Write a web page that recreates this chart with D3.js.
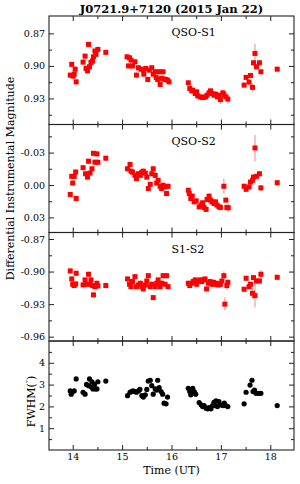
<!DOCTYPE html>
<html><head><meta charset="utf-8">
<script src="https://cdn.jsdelivr.net/npm/d3@7"></script>
<style>body{margin:0;background:#fff;} svg{display:block;} text{font-family:"DejaVu Serif",serif;fill:#000;}</style>
</head><body><svg id="c" width="300" height="484"></svg>
<script>
// ---------- data ----------
const title = "J0721.9+7120 (2015 Jan 22)";
const timeTicks = [14, 15, 16, 17, 18];
const timeTickLabels = ["14", "15", "16", "17", "18"];
const panelNames = ["QSO-S1", "QSO-S2", "S1-S2"];

const qsoS1Ticks = [0.87, 0.90, 0.93];
const qsoS1TickLabels = ["0.87", "0.90", "0.93"];
const qsoS2Ticks = [-0.03, 0.00, 0.03];
const qsoS2TickLabels = ["-0.03", "0.00", "0.03"];
const s1s2Ticks = [-0.87, -0.90, -0.93, -0.96];
const s1s2TickLabels = ["-0.87", "-0.90", "-0.93", "-0.96"];
const fwhmTicks = [0, 1, 2, 3, 4];
const fwhmTickLabels = ["0", "1", "2", "3", "4"];

// [time (UT), value, optional error]
const qsoS1 = [
[13.95,0.9085],[13.98,0.8986],[14.01,0.9094],[14.03,0.9076],[14.05,0.903],[14.07,0.9147],
[14.21,0.8965],[14.25,0.891],[14.27,0.9023],[14.30,0.9045],[14.32,0.8802],[14.34,0.9008],[14.37,0.8968],[14.40,0.8956],[14.42,0.8916],[14.45,0.8863],[14.47,0.8894],[14.51,0.8848],[14.67,0.8875],
[15.10,0.8916],[15.13,0.900],[15.15,0.8925],[15.18,0.8946],[15.21,0.900],[15.26,0.8962],[15.29,0.9085],[15.33,0.9017],[15.38,0.903],[15.43,0.9039],[15.44,0.9076],[15.48,0.9023],[15.52,0.9125],[15.55,0.9039],[15.60,0.9017],[15.63,0.9076],[15.67,0.9054],[15.69,0.9106],[15.72,0.9125],[15.75,0.9054],[15.77,0.9171],[15.80,0.9115],[15.83,0.9054],[15.85,0.9122],[15.88,0.9125],[15.92,0.9131],[15.95,0.9147],
[16.34,0.9156],[16.37,0.9208],[16.41,0.923],[16.43,0.9224],[16.48,0.9254],[16.51,0.9239],[16.53,0.9276],[16.58,0.9285],[16.62,0.9291],[16.65,0.9291],[16.69,0.9285],[16.72,0.927],[16.76,0.9248],[16.79,0.923],[16.82,0.9254],[16.86,0.927],[16.89,0.926],[16.93,0.9285],[16.96,0.927],[16.99,0.931,0.004],[17.04,0.9248],[17.06,0.9264],[17.10,0.9285],[17.14,0.9306,0.004],
[17.47,0.9177],[17.51,0.9106],[17.57,0.9149],[17.60,0.9088],[17.64,0.9198,0.004],[17.66,0.8971],[17.69,0.8885,0.009],[17.72,0.9008],[17.78,0.8971],[17.81,0.9054],[18.14,0.903]
];

const qsoS2 = [
[13.95,0.0088],[13.98,-0.008],[14.00,-0.0018],[14.03,-0.008],[14.06,-0.012],[14.07,0.0125],
[14.21,-0.016],[14.26,-0.0104],[14.30,-0.0073],[14.32,-0.022],[14.35,-0.011],[14.39,-0.015],[14.42,-0.0293],[14.45,-0.0211],[14.49,-0.0288],[14.51,-0.021],[14.67,-0.0248],
[15.11,-0.015],[15.16,-0.019],[15.18,-0.0128],[15.21,-0.0119],[15.26,-0.0089],[15.29,-0.0059],[15.33,-0.0104],[15.37,-0.0089],[15.40,-0.0119],[15.43,-0.0128],[15.47,-0.011],[15.50,-0.0073],[15.53,0.0033],[15.57,-0.0006],[15.60,-0.0104],[15.63,-0.015],[15.67,-0.0089],[15.70,-0.0018],[15.73,-0.0043],[15.77,0.0012],[15.80,0.0033],[15.83,0.0003],[15.87,0.0018],[15.90,0.0079],[15.93,0.0012],
[16.34,0.0049],[16.36,0.0079],[16.39,0.0125],[16.42,0.0103],[16.46,0.0156],[16.50,0.0147],[16.56,0.0202],[16.60,0.0186],[16.63,0.0165],[16.66,0.0208],[16.70,0.0226],[16.72,0.0134],[16.76,0.0103],[16.79,0.014],[16.82,0.0156],[16.86,0.0171],[16.89,0.0156],[16.92,0.0186],[16.96,0.0202],[16.99,0.0208],[17.06,0.0012,0.007],[17.10,0.014],[17.12,0.0208],[17.15,0.0211,0.004],
[17.47,0.0012],[17.51,0.004],[17.57,0.0018],[17.60,-0.0027],[17.64,-0.0043],[17.66,-0.0073],[17.69,-0.0343,0.012],[17.72,-0.008],[17.78,-0.0104],[17.81,0.0027],[18.14,-0.0021]
];

const s1s2 = [
[13.95,-0.8994],[13.98,-0.9068],[14.00,-0.9117],[14.03,-0.9129],[14.06,-0.9114],[14.07,-0.9016],
[14.21,-0.9123],[14.25,-0.9077],[14.28,-0.9117],[14.32,-0.9025],[14.35,-0.9117],[14.37,-0.9077],[14.40,-0.9129],[14.42,-0.9215],[14.45,-0.9139],[14.49,-0.9108],[14.51,-0.9132],[14.67,-0.9129],
[15.11,-0.9068],[15.15,-0.9117],[15.18,-0.9139],[15.21,-0.9092],[15.26,-0.9047],[15.29,-0.9139],[15.33,-0.9123],[15.37,-0.9108],[15.40,-0.9139],[15.43,-0.916],[15.47,-0.9123],[15.50,-0.9087],[15.53,-0.9038],[15.57,-0.9139],[15.60,-0.9117],[15.63,-0.924],[15.67,-0.9139],[15.70,-0.9108],[15.73,-0.9077],[15.77,-0.9139],[15.80,-0.9108],[15.83,-0.9038],[15.87,-0.9117],[15.90,-0.9038],[15.93,-0.9139],
[16.34,-0.9108],[16.37,-0.9129],[16.41,-0.9108],[16.44,-0.9092],[16.48,-0.9077],[16.51,-0.9117],[16.55,-0.9087],[16.58,-0.9077],[16.61,-0.9092],[16.65,-0.9077],[16.68,-0.9068],[16.71,-0.916],[16.75,-0.9108],[16.78,-0.9092],[16.82,-0.9117],[16.85,-0.9099],[16.88,-0.9117],[16.92,-0.9108],[16.95,-0.9123],[16.99,-0.9117],[17.02,-0.9087],[17.06,-0.9038,0.004],[17.08,-0.930,0.006],[17.12,-0.9129,0.004],[17.14,-0.9099],
[17.47,-0.9163],[17.51,-0.9062],[17.57,-0.9139],[17.60,-0.9117],[17.64,-0.920,0.005],[17.66,-0.9056],[17.69,-0.9222,0.011],[17.72,-0.9087],[17.78,-0.9087],[17.81,-0.9025,0.004],[18.14,-0.9053]
];

const fwhm = [
[13.95,2.71],[13.97,2.56],[14.00,2.68],[14.03,2.71],[14.07,3.26],
[14.21,2.65],[14.25,2.56],[14.28,3.01],[14.32,2.95],[14.34,3.26],[14.37,2.9],[14.39,3.13],[14.41,2.8],[14.44,3.01],[14.46,2.8],[14.49,2.8],[14.51,3.13],[14.67,3.16],
[15.11,2.49],[15.16,2.65],[15.19,2.68],[15.22,2.71],[15.26,2.68],[15.29,2.65],[15.33,2.71],[15.36,2.78],[15.40,2.49],[15.43,2.43],[15.47,2.53],[15.50,2.78],[15.53,3.16],[15.57,3.2],[15.60,2.95],[15.63,2.56],[15.67,2.8],[15.70,2.75],[15.72,3.2],[15.75,2.86],[15.79,2.68],[15.82,2.56],[15.85,2.15],[15.89,2.12],[15.92,2.43],
[16.34,2.83],[16.37,2.68],[16.39,2.53],[16.43,2.83],[16.46,2.68],[16.49,2.56],[16.56,2.18],[16.60,2.07],[16.63,1.99],[16.66,2.04],[16.70,1.92],[16.73,1.89],[16.76,1.95],[16.80,1.89],[16.83,2.04],[16.86,2.19],[16.88,2.04],[16.90,2.25],[16.93,1.99],[16.96,2.22],[16.99,2.07],[17.04,2.04],[17.07,2.15],[17.10,2.04],[17.14,1.99],
[17.47,2.12],[17.51,2.65],[17.59,2.98],[17.63,3.2],[17.65,2.68],[17.68,2.75],[17.71,2.6],[17.76,2.6],[17.81,2.6],[18.14,2.04]
];

// ---------- layout ----------
const svg = d3.select("#c");
const L = 49, R = 294;
const x = d3.scaleLinear().domain([13.52, 18.48]).range([L, R]);
const defaultErr = [0.0025, 0.0025, 0.0025, 0];

const panels = [
  {data: qsoS1, dom: [0.854, 0.954], top: 16,    bot: 124.5, ticks: qsoS1Ticks, labels: qsoS1TickLabels, step: 0.03, name: panelNames[0], kind: "sq"},
  {data: qsoS2, dom: [-0.056, 0.044], top: 124.5, bot: 232.5, ticks: qsoS2Ticks, labels: qsoS2TickLabels, step: 0.03, name: panelNames[1], kind: "sq"},
  {data: s1s2,  dom: [-0.864, -0.964], top: 232.5, bot: 341, ticks: s1s2Ticks, labels: s1s2TickLabels, step: 0.03, name: panelNames[2], kind: "sq"},
  {data: fwhm,  dom: [5, 0], top: 341, bot: 450, ticks: fwhmTicks, labels: fwhmTickLabels, step: 1, name: null, kind: "dot"}
];

function minorsOf(ticks, step, dom) {
  const lo = Math.min(dom[0], dom[1]), hi = Math.max(dom[0], dom[1]);
  const out = [];
  const start = Math.ceil((lo - ticks[0]) / (step / 2) - 1e-9);
  for (let k = start; ; k++) {
    const v = ticks[0] + k * step / 2;
    if (v > hi + 1e-9) break;
    if (v >= lo - 1e-9) out.push(+v.toFixed(6));
  }
  return out.filter(v => !ticks.some(t => Math.abs(t - v) < 1e-6));
}
const xMinor = minorsOf(timeTicks, 1, x.domain());

panels.forEach((p, i) => {
  const y = d3.scaleLinear().domain(p.dom).range([p.top, p.bot]);
  const g = svg.append("g");
  const edge = v => Math.abs(y(v) - p.top) < 2 || Math.abs(y(v) - p.bot) < 2;
  const yMaj = p.ticks.filter(v => !edge(v));
  const yMin = minorsOf(p.ticks, p.step, p.dom).filter(v => !edge(v));

  const fmt = v => p.labels[p.ticks.indexOf(v)];
  g.append("g").attr("transform", `translate(${L},0)`)
    .call(d3.axisLeft(y).tickValues(yMaj).tickSizeInner(-5).tickSizeOuter(0).tickPadding(4).tickFormat(fmt));
  g.append("g").attr("transform", `translate(${L},0)`)
    .call(d3.axisLeft(y).tickValues(yMin).tickSizeInner(-3).tickSizeOuter(0).tickFormat(""));
  g.append("g").attr("transform", `translate(${R},0)`)
    .call(d3.axisRight(y).tickValues(yMaj).tickSizeInner(-5).tickSizeOuter(0).tickFormat(""));
  g.append("g").attr("transform", `translate(${R},0)`)
    .call(d3.axisRight(y).tickValues(yMin).tickSizeInner(-3).tickSizeOuter(0).tickFormat(""));
  g.append("g").attr("transform", `translate(0,${p.bot})`)
    .call(d3.axisBottom(x).tickValues(timeTicks).tickSizeInner(-5).tickSizeOuter(0).tickPadding(3)
      .tickFormat(i === 3 ? (v => timeTickLabels[timeTicks.indexOf(v)]) : ""));
  g.append("g").attr("transform", `translate(0,${p.bot})`)
    .call(d3.axisBottom(x).tickValues(xMinor).tickSizeInner(-3).tickSizeOuter(0).tickFormat(""));
  g.append("g").attr("transform", `translate(0,${p.top})`)
    .call(d3.axisTop(x).tickValues(timeTicks).tickSizeInner(-5).tickSizeOuter(0).tickFormat(""));
  g.append("g").attr("transform", `translate(0,${p.top})`)
    .call(d3.axisTop(x).tickValues(xMinor).tickSizeInner(-3).tickSizeOuter(0).tickFormat(""));
  g.selectAll(".domain").remove();
  g.selectAll(".tick line").attr("stroke", "#222").attr("stroke-width", 1);
  g.selectAll(".tick text").attr("font-family", "DejaVu Serif").attr("font-size", 9.5).attr("fill", "#000");

  g.append("rect").attr("x", L).attr("y", p.top).attr("width", R - L).attr("height", p.bot - p.top)
    .attr("fill", "none").attr("stroke", "#222").attr("stroke-width", 1.1);

  if (p.name) {
    g.append("text").attr("x", x(16)).attr("y", p.top + 20).attr("font-size", 11).text(p.name);
  }

  const clipId = "clip" + i;
  svg.append("clipPath").attr("id", clipId).append("rect")
    .attr("x", L).attr("y", p.top).attr("width", R - L).attr("height", p.bot - p.top);
  const m = g.append("g").attr("clip-path", `url(#${clipId})`);

  if (p.kind === "sq") {
    m.selectAll("line.err").data(p.data).enter().append("line")
      .attr("x1", d => x(d[0])).attr("x2", d => x(d[0]))
      .attr("y1", d => y(d[1] - (d[2] || defaultErr[i])))
      .attr("y2", d => y(d[1] + (d[2] || defaultErr[i])))
      .attr("stroke", "#f5a3a3").attr("stroke-width", 1.3);
    m.selectAll("rect.pt").data(p.data).enter().append("rect")
      .attr("x", d => x(d[0]) - 2.5).attr("y", d => y(d[1]) - 2.5)
      .attr("width", 5).attr("height", 5).attr("fill", "#ff0000");
  } else {
    m.selectAll("circle").data(p.data).enter().append("circle")
      .attr("cx", d => x(d[0])).attr("cy", d => y(d[1])).attr("r", 2.6).attr("fill", "#000");
  }
});

svg.append("text").attr("x", (L + R) / 2).attr("y", 12.5).attr("text-anchor", "middle")
  .attr("font-size", 11.5).attr("font-weight", "bold").text(title);
svg.append("text").attr("transform", `translate(14,${(16 + 341) / 2}) rotate(-90)`)
  .attr("text-anchor", "middle").attr("font-size", 11).text("Differential Instrumental Magnitude");
const fl = svg.append("text").attr("transform", `translate(35,${(341 + 450) / 2 + 6}) rotate(-90)`)
  .attr("text-anchor", "middle").attr("font-size", 11);
fl.append("tspan").text("FWHM(");
fl.append("tspan").attr("dy", -4).attr("font-size", 8).text("″");
fl.append("tspan").attr("dy", 4).text(")");
svg.append("text").attr("x", (L + R) / 2).attr("y", 474).attr("text-anchor", "middle")
  .attr("font-size", 11).text("Time (UT)");
</script></body></html>
